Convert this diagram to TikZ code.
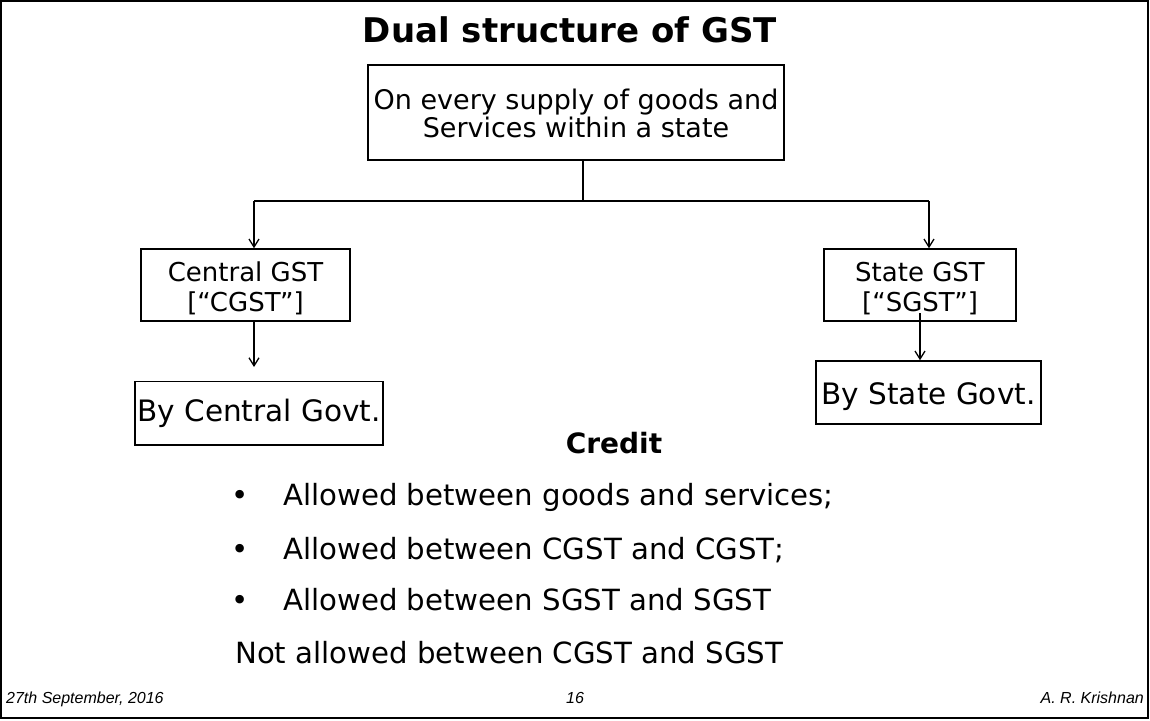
\documentclass[tikz,border=0pt]{standalone}
\usepackage{fontspec}
\setmainfont{DejaVu Sans}
\newfontfamily\footfont{Liberation Sans}
\usetikzlibrary{arrows.meta,positioning}

\begin{document}
\begin{tikzpicture}[x=1pt,y=-1pt,>={Straight Barb[length=8pt,width=10pt]},
  gstbox/.style={draw,line width=1.5pt,inner sep=0pt,align=center,font=\fontsize{26}{30}\selectfont},
  govtbox/.style={draw,line width=1.5pt,inner sep=0pt,font=\fontsize{29.5}{34}\selectfont},
  link/.style={->,line width=1.3pt},
  branch/.style={line width=2pt},
  bullettext/.style={anchor=base west,inner sep=0pt,font=\fontsize{29.2}{34}\selectfont},
  foot/.style={inner sep=0pt,font=\footfont\itshape\fontsize{16}{19}\selectfont}]
  \useasboundingbox (0,0) rectangle (1150,720);
  \draw[line width=2pt] (1,1) rectangle (1148,718);
  \node[font=\bfseries\fontsize{34}{40}\selectfont] (title) at (570,30) {Dual structure of GST};
  % tree of the two levies
  \node[gstbox,line width=2pt,font=\fontsize{27}{28}\selectfont,minimum width=416,minimum height=95] (supply) at (576,112.5)
    {\rule{0pt}{23pt}On every supply of goods and\\Services within a state};
  \node[gstbox,minimum width=209,minimum height=72] (cgst) at (245.5,285) {\rule{0pt}{27pt}Central GST\\{[}“CGST”{]}};
  \node[gstbox,minimum width=192,minimum height=72] (sgst) at (920,285) {\rule{0pt}{27pt}State GST\\{[}“SGST”{]}};
  \node[govtbox,minimum width=248,minimum height=63.5] (centralgovt) at (259,413) {By Central Govt.};
  \node[govtbox,minimum width=225,minimum height=63] (stategovt) at (928.5,392.5) {\rule{0pt}{31pt}By State Govt.};
  \coordinate (split) at (583,201);
  \coordinate (splitL) at (254,201);
  \coordinate (splitR) at (929,201);
  \coordinate (cgstTip) at (254,367);
  \coordinate (sgstTail) at (920,313);
  \draw[branch] (supply.south -| split) -- (split);
  \draw[branch] (splitL) -- (splitR);
  \draw[link] (splitL) -- (splitL |- cgst.north);
  \draw[link] (splitR) -- (splitR |- sgst.north);
  \draw[link] (cgst.south -| cgstTip) -- (cgstTip);
  \draw[link] (sgstTail) -- (sgstTail |- stategovt.north);
  % credit rules
  \node[font=\bfseries\fontsize{28}{33}\selectfont] (credit) at (614,443) {Credit};
  \foreach \y/\txt [count=\i] in {505/{Allowed between goods and services;},
      559/{Allowed between CGST and CGST;},
      610/{Allowed between SGST and SGST}} {
    \node[bullettext] (dot\i) at (231,\y) {•};
    \node[bullettext] (rule\i) at (283,\y) {\txt};
  }
  \node[bullettext] (notallowed) at (235,663) {Not allowed between CGST and SGST};
  % footer
  \node[foot,anchor=base west] (date) at (6,703) {27th September, 2016};
  \node[foot,anchor=base] (page) at (575,703) {16};
  \node[foot,anchor=base east] (author) at (1144,703) {A. R. Krishnan};
\end{tikzpicture}
\end{document}
